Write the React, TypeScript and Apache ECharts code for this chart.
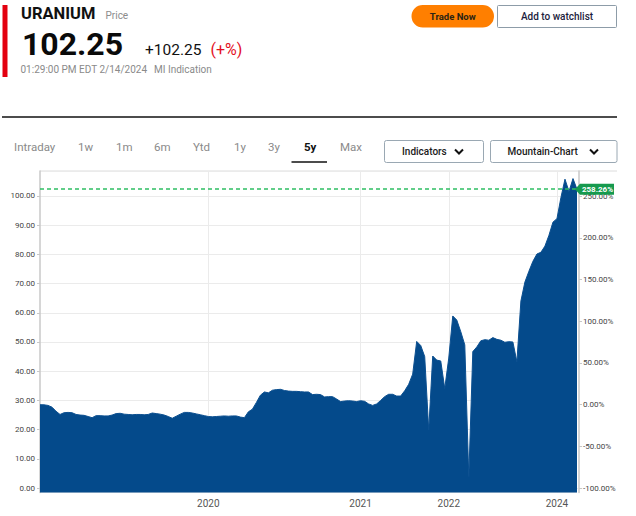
import React, { useEffect, useRef } from "react";
import * as echarts from "echarts";

// ---------- data ----------
const dates2019 = [
  "2019-02-14", "2019-02-21", "2019-02-28", "2019-03-07", "2019-03-14", "2019-03-21", "2019-03-28",
  "2019-04-04", "2019-04-11", "2019-04-25", "2019-05-02", "2019-05-09", "2019-05-16", "2019-05-23",
  "2019-05-30", "2019-06-06", "2019-06-13", "2019-06-20", "2019-06-27", "2019-07-11", "2019-07-18",
  "2019-07-25", "2019-08-01", "2019-08-08", "2019-08-15", "2019-08-22", "2019-08-29", "2019-09-12",
  "2019-09-19", "2019-09-26", "2019-10-03", "2019-10-10", "2019-10-17", "2019-10-24", "2019-10-31",
  "2019-11-07", "2019-11-14", "2019-11-21", "2019-12-05", "2019-12-12", "2019-12-19", "2019-12-26",
];
const dates2020 = [
  "2020-01-02", "2020-01-09", "2020-01-16", "2020-01-27", "2020-02-06", "2020-02-17", "2020-02-27",
  "2020-03-09", "2020-03-19", "2020-03-30", "2020-04-09", "2020-04-20", "2020-04-30", "2020-05-11",
  "2020-05-21", "2020-06-01", "2020-06-11", "2020-06-22", "2020-07-02", "2020-07-13", "2020-07-23",
  "2020-08-03", "2020-08-13", "2020-08-24", "2020-09-03", "2020-09-14", "2020-09-24", "2020-10-05",
  "2020-10-15", "2020-10-26", "2020-11-05", "2020-11-16", "2020-11-26", "2020-12-07", "2020-12-14",
  "2020-12-17", "2020-12-21", "2020-12-28",
];
const dates2021 = [
  "2021-01-04", "2021-01-20", "2021-02-05", "2021-02-22", "2021-03-10", "2021-03-26", "2021-04-12",
  "2021-04-28", "2021-05-14", "2021-05-31", "2021-06-16", "2021-07-02", "2021-07-19", "2021-08-04",
  "2021-08-20", "2021-09-06", "2021-09-22", "2021-10-08", "2021-10-25", "2021-11-10", "2021-11-26",
  "2021-12-13",
];
const dates2022to2023 = [
  "2022-01-03", "2022-01-31", "2022-02-28", "2022-03-28", "2022-04-25", "2022-05-23", "2022-06-20",
  "2022-07-18", "2022-08-15", "2022-09-12", "2022-10-10", "2022-11-07", "2022-12-05",
  "2023-01-03", "2023-01-30", "2023-02-27", "2023-03-27", "2023-04-24", "2023-05-22", "2023-06-19",
  "2023-07-17", "2023-08-14", "2023-09-11", "2023-10-09", "2023-11-06", "2023-12-04", "2023-12-18",
];
const dates2024 = ["2024-01-02", "2024-01-12", "2024-01-22", "2024-01-31", "2024-02-07", "2024-02-14"];
const dates = [...dates2019, ...dates2020, ...dates2021, ...dates2022to2023, ...dates2024];

const prices = [
  28.541, 28.5, 28.3, 27.7, 26.3, 25.2, 25.8, 25.9, 25.8, 25.2,
  25.0, 24.9, 24.5, 24.1, 24.8, 24.8, 24.7, 24.7, 25.0, 25.5,
  25.6, 25.3, 25.2, 25.1, 25.2, 25.2, 25.1, 25.2, 25.7, 25.5,
  25.3, 25.0, 24.5, 23.9, 24.6, 25.3, 25.9, 25.9, 25.7, 25.4,
  25.1, 24.8, 24.5, 24.4, 24.5, 24.6, 24.7, 24.6, 24.7, 24.7,
  24.3, 24.1, 26.1, 27.0, 29.3, 31.8, 32.9, 32.6, 33.5, 33.7,
  33.8, 33.4, 33.2, 33.1, 33.1, 33.0, 32.9, 32.9, 32.0, 32.1,
  32.0, 31.2, 31.3, 31.3, 30.5, 29.6, 29.8, 29.9, 29.8, 29.6,
  29.9, 29.7, 28.8, 28.3, 28.8, 30.0, 31.3, 32.1, 32.1, 31.5,
  31.5, 33.3, 35.5, 39.0, 50.2, 48.8, 45.0, 19.9, 45.2, 43.8,
  43.5, 34.1, 44.5, 58.9, 57.5, 53.5, 49.0, 3.9, 46.7, 48.3,
  50.4, 50.8, 50.6, 51.5, 50.9, 50.6, 49.9, 50.1, 50.0, 43.2,
  64.0, 70.5, 74.2, 77.6, 80.1, 80.7, 82.8, 86.5, 91.0, 92.2,
  99.5, 105.7, 101.5, 105.9, 102.25,
];

const yearTicks = ["2020", "2021", "2022", "2024"];
const tabs = ["Intraday", "1w", "1m", "6m", "Ytd", "1y", "3y", "5y", "Max"];
const activeTab = "5y";
const symbolName = "URANIUM";
const priceLabel = "Price";
const lastPriceText = "102.25";
const changeText = "+102.25";
const changePctText = "(+%)";
const timeText = "01:29:00 PM EDT 2/14/2024";
const sourceText = "MI Indication";

// ---------- styles ----------
const FONT = 'Roboto, "Noto Sans", Arial, sans-serif';
const NAVY = "#044a8b";
const GREEN_DASH = "#2fbf63";
const GRID_LEFT = 40;
const GRID_RIGHT = 59;
const GRID_TOP = 171;
const GRID_BOTTOM = 23.5;
const Y_MIN = -1.5;
const Y_MAX = 108.5;

function txt(x: number, y: number, text: string, size: number, color: string, weight: any = "normal", align = "left") {
  return {
    type: "text",
    x,
    y,
    silent: true,
    style: {
      text,
      fill: color,
      fontSize: size,
      fontFamily: FONT,
      fontWeight: weight,
      align,
      verticalAlign: "middle",
    },
  };
}

export default function App() {
  const ref = useRef<HTMLDivElement>(null);

  useEffect(() => {
    if (!ref.current) return;
    const chart = echarts.init(ref.current, undefined, { renderer: "svg" });

    const base = prices[0];
    const last = prices[prices.length - 1];
    const pct = (last / base - 1) * 100;
    const rMin = (Y_MIN / base - 1) * 100;
    const rMax = (Y_MAX / base - 1) * 100;

    const labelIdx = new Set(yearTicks.map((y) => dates.findIndex((d) => d.startsWith(y))));
    const showAt = (i: number) => labelIdx.has(i);

    const tabX = [14, 78, 116, 154, 193, 234, 268, 304, 340];
    const tabY = 147;

    const headerGraphics: any[] = [
      { type: "rect", silent: true, shape: { x: 2.5, y: 5, width: 5, height: 72 }, style: { fill: "#e3000f" } },
      txt(21, 13, symbolName, 16.5, "#111", "bold"),
      txt(105.5, 15.5, priceLabel, 10, "#8c8c8c"),
      txt(22, 44, lastPriceText, 32, "#0a0a0a", "bold"),
      txt(145, 49.5, changeText, 15.5, "#111"),
      txt(210.5, 49.5, changePctText, 16, "#e3101e"),
      txt(20.5, 69.5, timeText, 10, "#8a8a8a"),
      txt(154, 69.5, sourceText, 10, "#8a8a8a"),
      { type: "rect", silent: true, shape: { x: 411.5, y: 5, width: 82.5, height: 22.5, r: 11.25 }, style: { fill: "#ff7f00" } },
      txt(452.75, 16.5, "Trade Now", 9.5, "#2b2414", "bold", "center"),
      {
        type: "rect",
        silent: true,
        shape: { x: 497.5, y: 5.5, width: 119, height: 22, r: 1 },
        style: { fill: "#fff", stroke: "#8d9ca8", lineWidth: 1 },
      },
      txt(557, 16.5, "Add to watchlist", 10, "#1c1c3c", 500, "center"),
      { type: "line", silent: true, shape: { x1: 2, y1: 117, x2: 617, y2: 117 }, style: { stroke: "#111", lineWidth: 1.5 } },
      ...tabs.map((t, i) =>
        txt(tabX[i], tabY, t, 11.5, t === activeTab ? "#111" : "#8a8a8a", t === activeTab ? "bold" : "normal")
      ),
      { type: "line", silent: true, shape: { x1: 291.5, y1: 162, x2: 327, y2: 162 }, style: { stroke: "#111", lineWidth: 1.5 } },
      {
        type: "rect",
        silent: true,
        shape: { x: 384.5, y: 140.5, width: 99, height: 22, r: 2 },
        style: { fill: "#fff", stroke: "#9aa8b3", lineWidth: 1 },
      },
      txt(402, 151.5, "Indicators", 10, "#1a1a1a", 500),
      { type: "polyline", silent: true, shape: { points: [[455, 149.5], [459, 153.5], [463, 149.5]] }, style: { stroke: "#111", lineWidth: 2, fill: null } },
      {
        type: "rect",
        silent: true,
        shape: { x: 490.5, y: 140.5, width: 126.5, height: 22, r: 2 },
        style: { fill: "#fff", stroke: "#9aa8b3", lineWidth: 1 },
      },
      txt(507.5, 151.5, "Mountain-Chart", 10, "#1a1a1a", 500),
      { type: "polyline", silent: true, shape: { points: [[590, 149.5], [594, 153.5], [598, 149.5]] }, style: { stroke: "#111", lineWidth: 2, fill: null } },
      { type: "line", silent: true, shape: { x1: 40, y1: GRID_TOP, x2: 617, y2: GRID_TOP }, style: { stroke: "#dcdcdc", lineWidth: 1 } },
    ];

    const makeOption = (extra: any[]) => ({
      animation: false,
      backgroundColor: "#ffffff",
      textStyle: { fontFamily: FONT },
      grid: { left: GRID_LEFT, right: GRID_RIGHT, top: GRID_TOP, bottom: GRID_BOTTOM, containLabel: false },
      xAxis: {
        type: "category",
        data: dates,
        boundaryGap: false,
        axisLine: { show: true, lineStyle: { color: "#c8c8c8", width: 1 } },
        axisTick: { show: true, interval: showAt, length: 4, lineStyle: { color: "#c8c8c8" } },
        axisLabel: {
          interval: showAt,
          formatter: (v: string) => v.slice(0, 4),
          fontSize: 10,
          color: "#555",
          margin: 6,
          fontFamily: FONT,
        },
        splitLine: { show: true, interval: showAt, lineStyle: { color: "#ebebeb", width: 1 } },
      },
      yAxis: [
        {
          type: "value",
          position: "left",
          min: Y_MIN,
          max: Y_MAX,
          splitNumber: 11,
          axisLine: { show: true, lineStyle: { color: "#c8c8c8", width: 1.5 } },
          axisTick: { show: true, length: 3, lineStyle: { color: "#c8c8c8" } },
          axisLabel: {
            formatter: (v: number) => v.toFixed(2),
            fontSize: 8,
            color: "#444",
            margin: 5,
            showMinLabel: false,
            showMaxLabel: false,
            fontFamily: FONT,
          },
          splitLine: { show: true, lineStyle: { color: "#ebebeb", width: 1 } },
        },
        {
          type: "value",
          position: "right",
          offset: 2,
          min: rMin,
          max: rMax,
          splitNumber: 8,
          axisLine: { show: true, lineStyle: { color: "#c8c8c8", width: 1.5 } },
          axisTick: { show: true, length: 3, lineStyle: { color: "#c8c8c8" } },
          axisLabel: {
            formatter: (v: number) => v.toFixed(2) + "%",
            fontSize: 8,
            color: "#444",
            margin: 4,
            showMinLabel: false,
            showMaxLabel: false,
            fontFamily: FONT,
          },
          splitLine: { show: false },
        },
      ],
      series: [
        {
          type: "line",
          name: symbolName,
          data: prices,
          yAxisIndex: 0,
          showSymbol: false,
          symbol: "none",
          lineStyle: { width: 1, color: "#0b4f90" },
          areaStyle: { color: NAVY, opacity: 1, origin: "start" },
        },
      ],
      graphic: [...headerGraphics, ...extra],
    });

    chart.setOption(makeOption([]));

    const yPix = chart.convertToPixel({ yAxisIndex: 0 }, last) as number;
    const xEnd = chart.convertToPixel({ xAxisIndex: 0 }, dates[dates.length - 1]) as number;
    const yLine = Math.round(yPix);
    const tipX = xEnd - 2;
    const overlay = [
      {
        type: "line",
        silent: true,
        shape: { x1: GRID_LEFT, y1: yLine, x2: xEnd, y2: yLine },
        style: { stroke: GREEN_DASH, lineWidth: 1.3, lineDash: [4, 3] },
        z: 9,
      },
      {
        type: "polygon",
        silent: true,
        shape: {
          points: [
            [tipX, yPix],
            [tipX + 5, yPix - 5.5],
            [614, yPix - 5.5],
            [614, yPix + 5.5],
            [tipX + 5, yPix + 5.5],
          ],
        },
        style: { fill: "#169a4e" },
        z: 10,
      },
      { ...txt(597.5, yPix, pct.toFixed(2) + "%", 8, "#ffffff", "bold", "center"), z: 11 },
    ];
    chart.setOption(makeOption(overlay), true);

    return () => chart.dispose();
  }, []);

  return (
    <div
      ref={ref}
      style={{ position: "fixed", left: 0, top: 0, width: 636, height: 516, background: "#fff" }}
    />
  );
}
